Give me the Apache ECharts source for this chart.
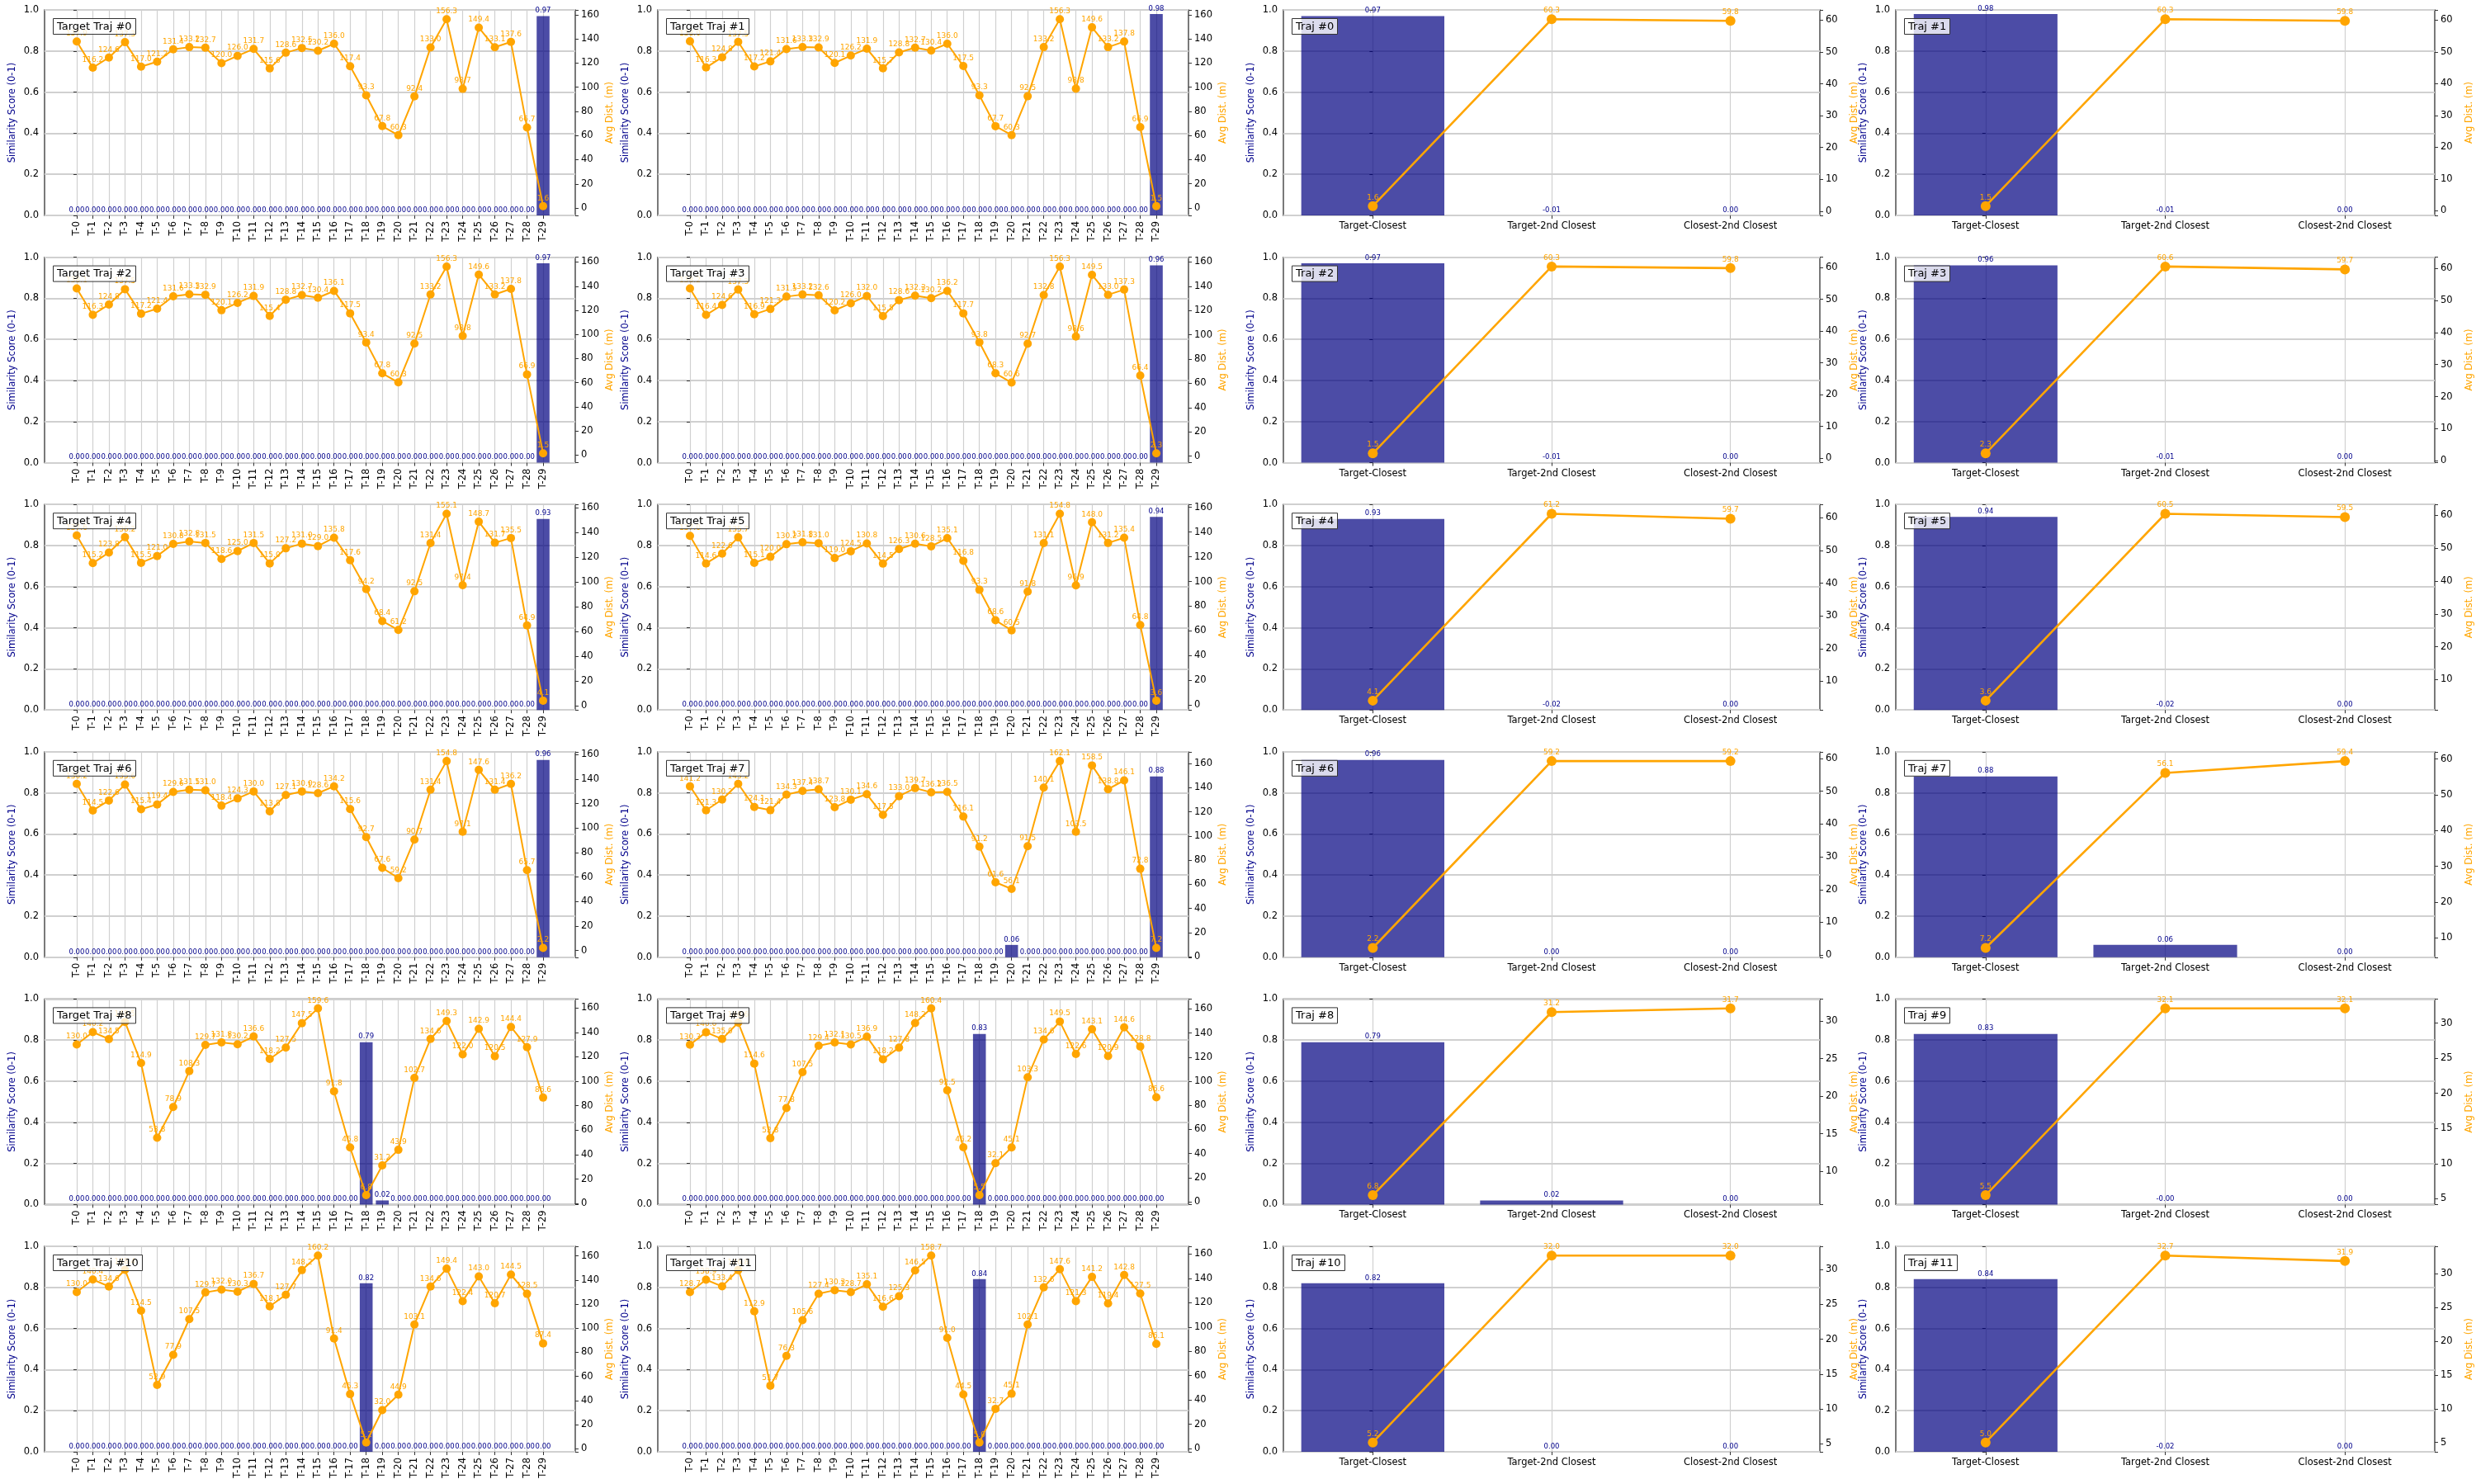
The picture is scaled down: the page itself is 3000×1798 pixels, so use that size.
<!DOCTYPE html>
<html>
<head>
<meta charset="utf-8">
<title>Trajectory similarity</title>
<script src="https://cdn.jsdelivr.net/npm/echarts@6/dist/echarts.min.js"></script>
<style>
    html, body { margin: 0; padding: 0; background: #ffffff; }
    #chart { width: 3000px; height: 1798px; }
</style>
</head>
<body>
<div id="chart"></div>
<script>
// categories
var steps = ['T-0', 'T-1', 'T-2', 'T-3', 'T-4', 'T-5', 'T-6', 'T-7', 'T-8', 'T-9',
    'T-10', 'T-11', 'T-12', 'T-13', 'T-14', 'T-15', 'T-16', 'T-17', 'T-18', 'T-19',
    'T-20', 'T-21', 'T-22', 'T-23', 'T-24', 'T-25', 'T-26', 'T-27', 'T-28', 'T-29'];
var pairs = ['Target-Closest', 'Target-2nd Closest', 'Closest-2nd Closest'];

// avg distance (m) per time step, one array per target trajectory
var distT0 = [137.9, 116.2, 124.6, 137.3, 117.0, 121.2, 131.4, 133.2, 132.7, 120.0, 126.0, 131.7, 115.6, 128.6, 132.5, 130.2, 136.0, 117.4, 93.3, 67.8, 60.3, 92.4, 133.0, 156.3, 98.7, 149.4, 133.1, 137.6, 66.7, 1.6];
var distT1 = [138.0, 116.3, 124.8, 137.5, 117.2, 121.4, 131.6, 133.3, 132.9, 120.1, 126.2, 131.9, 115.7, 128.8, 132.7, 130.4, 136.0, 117.5, 93.3, 67.7, 60.3, 92.5, 133.2, 156.3, 98.8, 149.6, 133.2, 137.8, 66.9, 1.5];
var distT2 = [138.1, 116.3, 124.8, 137.5, 117.2, 121.4, 131.6, 133.3, 132.9, 120.1, 126.2, 131.9, 115.4, 128.8, 132.7, 130.4, 136.1, 117.5, 93.4, 67.8, 60.3, 92.5, 133.2, 156.3, 98.8, 149.6, 133.2, 137.8, 66.9, 1.5];
var distT3 = [138.2, 116.4, 124.6, 137.3, 116.9, 121.3, 131.5, 133.2, 132.6, 120.2, 126.0, 132.0, 115.5, 128.6, 132.3, 130.2, 136.2, 117.7, 93.8, 68.3, 60.6, 92.7, 132.8, 156.3, 98.6, 149.5, 133.0, 137.3, 66.4, 2.3];
var distT4 = [137.6, 115.2, 123.8, 136.2, 115.5, 121.0, 130.8, 132.8, 131.5, 118.6, 125.0, 131.5, 115.0, 127.2, 131.0, 129.0, 135.8, 117.6, 94.2, 68.4, 61.2, 92.5, 131.4, 155.1, 97.4, 148.7, 131.7, 135.5, 64.9, 4.1];
var distT5 = [137.0, 114.6, 122.6, 135.7, 115.1, 120.0, 130.2, 131.8, 131.0, 119.0, 124.5, 130.8, 114.5, 126.3, 130.6, 128.5, 135.1, 116.8, 93.3, 68.6, 60.5, 91.8, 131.1, 154.8, 96.9, 148.0, 131.2, 135.4, 64.8, 3.6];
var distT6 = [136.2, 114.5, 122.6, 135.6, 115.4, 119.4, 129.6, 131.5, 131.0, 118.4, 124.3, 130.0, 113.8, 127.1, 130.0, 128.6, 134.2, 115.6, 92.7, 67.6, 59.2, 90.7, 131.4, 154.8, 97.1, 147.6, 131.4, 136.2, 65.7, 2.2];
var distT7 = [141.2, 121.3, 130.2, 143.2, 124.1, 121.4, 134.3, 137.4, 138.7, 123.8, 130.1, 134.6, 117.5, 133.0, 139.7, 136.2, 136.5, 116.1, 91.2, 61.6, 56.1, 91.5, 140.1, 162.1, 103.5, 158.5, 138.8, 146.1, 72.8, 7.2];
var distT8 = [130.0, 140.2, 134.5, 148.5, 114.9, 53.8, 78.9, 108.3, 129.7, 131.8, 130.2, 136.6, 118.2, 127.5, 147.5, 159.6, 91.8, 45.8, 6.8, 31.2, 43.9, 102.7, 134.6, 149.3, 122.0, 142.9, 120.5, 144.4, 127.9, 86.6];
var distT9 = [130.3, 140.6, 135.0, 148.6, 114.6, 52.8, 77.8, 107.5, 129.4, 132.1, 130.5, 136.9, 118.2, 127.8, 148.2, 160.4, 92.5, 45.2, 5.5, 32.1, 45.1, 103.3, 134.6, 149.5, 122.6, 143.1, 120.9, 144.6, 128.8, 86.6];
var distT10 = [130.0, 140.4, 134.6, 148.4, 114.5, 52.9, 77.9, 107.5, 129.7, 132.0, 130.3, 136.7, 118.1, 127.7, 148.2, 160.2, 91.4, 45.3, 5.2, 32.0, 44.9, 103.1, 134.6, 149.4, 122.4, 143.0, 120.7, 144.5, 128.5, 87.4];
var distT11 = [128.7, 138.9, 133.4, 146.8, 112.9, 51.7, 76.3, 105.6, 127.4, 130.3, 128.7, 135.1, 116.6, 125.3, 146.5, 158.7, 91.0, 44.5, 5.0, 32.7, 45.1, 102.1, 132.6, 147.6, 121.3, 141.2, 119.4, 142.8, 127.5, 86.1];

// similarity score per time step
var scoreT0 = [0, 0, 0, 0, 0, 0, 0, 0, 0, 0, 0, 0, 0, 0, 0, 0, 0, 0, 0, 0, 0, 0, 0, 0, 0, 0, 0, 0, 0, 0.97];
var scoreT1 = [0, 0, 0, 0, 0, 0, 0, 0, 0, 0, 0, 0, 0, 0, 0, 0, 0, 0, 0, 0, 0, 0, 0, 0, 0, 0, 0, 0, 0, 0.98];
var scoreT2 = [0, 0, 0, 0, 0, 0, 0, 0, 0, 0, 0, 0, 0, 0, 0, 0, 0, 0, 0, 0, 0, 0, 0, 0, 0, 0, 0, 0, 0, 0.97];
var scoreT3 = [0, 0, 0, 0, 0, 0, 0, 0, 0, 0, 0, 0, 0, 0, 0, 0, 0, 0, 0, 0, 0, 0, 0, 0, 0, 0, 0, 0, 0, 0.96];
var scoreT4 = [0, 0, 0, 0, 0, 0, 0, 0, 0, 0, 0, 0, 0, 0, 0, 0, 0, 0, 0, 0, 0, 0, 0, 0, 0, 0, 0, 0, 0, 0.93];
var scoreT5 = [0, 0, 0, 0, 0, 0, 0, 0, 0, 0, 0, 0, 0, 0, 0, 0, 0, 0, 0, 0, 0, 0, 0, 0, 0, 0, 0, 0, 0, 0.94];
var scoreT6 = [0, 0, 0, 0, 0, 0, 0, 0, 0, 0, 0, 0, 0, 0, 0, 0, 0, 0, 0, 0, 0, 0, 0, 0, 0, 0, 0, 0, 0, 0.96];
var scoreT7 = [0, 0, 0, 0, 0, 0, 0, 0, 0, 0, 0, 0, 0, 0, 0, 0, 0, 0, 0, 0, 0.06, 0, 0, 0, 0, 0, 0, 0, 0, 0.88];
var scoreT8 = [0, 0, 0, 0, 0, 0, 0, 0, 0, 0, 0, 0, 0, 0, 0, 0, 0, 0, 0.79, 0.02, 0, 0, 0, 0, 0, 0, 0, 0, 0, 0];
var scoreT9 = [0, 0, 0, 0, 0, 0, 0, 0, 0, 0, 0, 0, 0, 0, 0, 0, 0, 0, 0.83, 0, 0, 0, 0, 0, 0, 0, 0, 0, 0, 0];
var scoreT10 = [0, 0, 0, 0, 0, 0, 0, 0, 0, 0, 0, 0, 0, 0, 0, 0, 0, 0, 0.82, 0, 0, 0, 0, 0, 0, 0, 0, 0, 0, 0];
var scoreT11 = [0, 0, 0, 0, 0, 0, 0, 0, 0, 0, 0, 0, 0, 0, 0, 0, 0, 0, 0.84, 0, 0, 0, 0, 0, 0, 0, 0, 0, 0, 0];

// pairwise comparison per trajectory
var pairDist0 = [1.6, 60.3, 59.8];   var pairScore0 = [0.97, -0.01, 0.00];
var pairDist1 = [1.5, 60.3, 59.8];   var pairScore1 = [0.98, -0.01, 0.00];
var pairDist2 = [1.5, 60.3, 59.8];   var pairScore2 = [0.97, -0.01, 0.00];
var pairDist3 = [2.3, 60.6, 59.7];   var pairScore3 = [0.96, -0.01, 0.00];
var pairDist4 = [4.1, 61.2, 59.7];   var pairScore4 = [0.93, -0.02, 0.00];
var pairDist5 = [3.6, 60.5, 59.5];   var pairScore5 = [0.94, -0.02, 0.00];
var pairDist6 = [2.2, 59.2, 59.2];   var pairScore6 = [0.96, 0.00, 0.00];
var pairDist7 = [7.2, 56.1, 59.4];   var pairScore7 = [0.88, 0.06, 0.00];
var pairDist8 = [6.8, 31.2, 31.7];   var pairScore8 = [0.79, 0.02, 0.00];
var pairDist9 = [5.5, 32.1, 32.1];   var pairScore9 = [0.83, -0.001, 0.00];
var pairDist10 = [5.2, 32.0, 32.0];  var pairScore10 = [0.82, 0.00, 0.00];
var pairDist11 = [5.0, 32.7, 31.9];  var pairScore11 = [0.84, -0.02, 0.00];

var stepDists = [distT0, distT1, distT2, distT3, distT4, distT5, distT6, distT7, distT8, distT9, distT10, distT11];
var stepScores = [scoreT0, scoreT1, scoreT2, scoreT3, scoreT4, scoreT5, scoreT6, scoreT7, scoreT8, scoreT9, scoreT10, scoreT11];
var pairDists = [pairDist0, pairDist1, pairDist2, pairDist3, pairDist4, pairDist5, pairDist6, pairDist7, pairDist8, pairDist9, pairDist10, pairDist11];
var pairScores = [pairScore0, pairScore1, pairScore2, pairScore3, pairScore4, pairScore5, pairScore6, pairScore7, pairScore8, pairScore9, pairScore10, pairScore11];

var FONT = 'DejaVu Sans';
var BAR = 'rgba(0, 0, 128, 0.7)';
var ORANGE = '#FFA500';
var GRID = '#d0d0d0';

// subplot frames (px)
var colX = [[54, 697], [797, 1440], [1555, 2205], [2297, 2950]];
var rowY0 = 12, rowPitch = 299.6, plotH = 249;

function padRange(arr) {
    //matplotlib style 5% margins
    var lo = Math.min.apply(null, arr);
    var hi = Math.max.apply(null, arr);
    var pad = (hi - lo) * 0.05;
    return [lo - pad, hi + pad];
}

function addPanel(option, box, titleText, cats, scores, dists, distStep) {
    var wide = cats.length > 3;
    var g = option.grid.length;
    var range = padRange(dists);
    var idx = cats.map(function (c, i) { return i; });

    option.grid.push({
        left: box.left, top: box.top, width: box.width, height: box.height,
        show: true, borderColor: '#333', borderWidth: 1.3, backgroundColor: 'transparent',
        containLabel: false, outerBoundsMode: 'none'
    });

    // value axis so the category margins match the original
    option.xAxis.push({
        type: 'value', gridIndex: g,
        min: wide ? -2 : -0.5, max: wide ? cats.length + 1 : cats.length - 0.5, interval: wide ? 1 : 0.5,
        axisLine: { show: false },
        axisTick: { show: true, length: 4, customValues: idx, lineStyle: { color: '#333' } },
        axisLabel: {
            customValues: idx,
            rotate: wide ? 90 : 0, fontSize: 11.5, color: '#000', fontFamily: FONT, margin: 7,
            formatter: function (v) {
                var k = Math.round(v);
                if (Math.abs(v - k) > 1e-6 || k < 0 || k >= cats.length) return '';
                return cats[k];
            }
        },
        splitLine: { show: true, lineStyle: { color: GRID, width: 1.2 } }
    });

    option.yAxis.push({
        type: 'value', gridIndex: g, min: 0, max: 1, interval: 0.2, position: 'left',
        name: 'Similarity Score (0-1)', nameLocation: 'middle', nameRotate: 90, nameGap: 33,
        nameTextStyle: { color: '#00008B', fontSize: 11.5, fontFamily: FONT },
        axisLine: { show: false },
        axisTick: { show: true, length: 4, lineStyle: { color: '#333' } },
        axisLabel: {
            fontSize: 11.5, color: '#000', fontFamily: FONT, margin: 7,
            formatter: function (v) { return v.toFixed(1); }
        },
        splitLine: { show: true, lineStyle: { color: GRID, width: 2.2 } }
    });

    option.yAxis.push({
        type: 'value', gridIndex: g, min: range[0], max: range[1],
        minInterval: distStep, maxInterval: distStep, position: 'right',
        name: 'Avg Dist. (m)', nameLocation: 'middle', nameRotate: 90, nameGap: 36,
        nameTextStyle: { color: ORANGE, fontSize: 11.5, fontFamily: FONT },
        axisLine: { show: false },
        axisTick: { show: true, length: 4, lineStyle: { color: '#333' } },
        axisLabel: {
            fontSize: 11.5, color: '#000', fontFamily: FONT, margin: 7,
            formatter: function (v) {
                var q = v / distStep;
                return Math.abs(q - Math.round(q)) < 1e-6 ? String(Math.round(v)) : '';
            }
        },
        splitLine: { show: false }
    });

    var yLeft = option.yAxis.length - 2;

    option.series.push({
        type: 'bar', xAxisIndex: g, yAxisIndex: yLeft, barWidth: '80%',
        data: scores.map(function (v, i) { return [i, v]; }),
        itemStyle: { color: BAR },
        label: {
            show: true, position: 'top', distance: 2, fontSize: 8.5, color: '#00008B', fontFamily: FONT,
            formatter: function (p) { return p.value[1].toFixed(2); }
        },
        z: 2
    });

    option.series.push({
        type: 'line', xAxisIndex: g, yAxisIndex: yLeft + 1,
        data: dists.map(function (v, i) { return [i, v]; }),
        symbol: 'circle', symbolSize: wide ? 10 : 12,
        lineStyle: { color: ORANGE, width: wide ? 2 : 2.6 },
        itemStyle: { color: ORANGE },
        label: {
            show: true, position: 'top', distance: 0, fontSize: 9, color: ORANGE, fontFamily: FONT,
            formatter: function (p) { return p.value[1].toFixed(1); }
        },
        z: 3
    });

    option.title.push({
        text: titleText, left: box.left + 10, top: box.top + 10,
        textStyle: { fontSize: 13, fontWeight: 'normal', color: '#000', fontFamily: FONT },
        backgroundColor: 'rgba(255,255,255,0.8)', borderColor: '#333', borderWidth: 1,
        padding: [4, 5, 3, 5]
    });
}

function buildOption() {
    var option = {
        animation: false,
        backgroundColor: '#ffffff',
        textStyle: { fontFamily: FONT },
        title: [], grid: [], xAxis: [], yAxis: [], series: []
    };
    for (var k = 0; k < 12; k++) {
        var row = Math.floor(k / 2);
        var top = rowY0 + row * rowPitch;
        var c1 = colX[k % 2], c2 = colX[2 + k % 2];
        addPanel(option, { left: c1[0], top: top, width: c1[1] - c1[0], height: plotH },
            'Target Traj #' + k, steps, stepScores[k], stepDists[k], 20);
        addPanel(option, { left: c2[0], top: top, width: c2[1] - c2[0], height: plotH },
            'Traj #' + k, pairs, pairScores[k], pairDists[k], k < 8 ? 10 : 5);
    }
    return option;
}

var chartDom = document.getElementById('chart');
var myChart = echarts.init(chartDom);
myChart.setOption(buildOption());
</script>
</body>
</html>
